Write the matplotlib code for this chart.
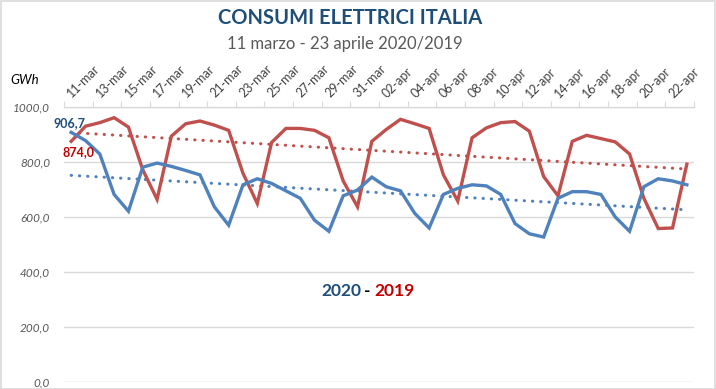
import matplotlib
matplotlib.use('Agg')
import matplotlib.pyplot as plt
from matplotlib.patches import Rectangle
import matplotlib.transforms as mtransforms
import numpy as np

days = ['11-mar', '12-mar', '13-mar', '14-mar', '15-mar', '16-mar', '17-mar', '18-mar',
        '19-mar', '20-mar', '21-mar', '22-mar', '23-mar', '24-mar', '25-mar', '26-mar',
        '27-mar', '28-mar', '29-mar', '30-mar', '31-mar', '01-apr', '02-apr', '03-apr',
        '04-apr', '05-apr', '06-apr', '07-apr', '08-apr', '09-apr', '10-apr', '11-apr',
        '12-apr', '13-apr', '14-apr', '15-apr', '16-apr', '17-apr', '18-apr', '19-apr',
        '20-apr', '21-apr', '22-apr', '23-apr']

cons_2020 = [906.7, 877, 828, 681, 620, 780, 795, 783, 768, 752, 636, 569, 716, 738,
             721, 694, 667, 587, 547, 676, 697, 744, 709, 694, 612, 559, 681, 703,
             716, 712, 681, 575, 538, 526, 667, 691, 691, 681, 599, 547, 709, 738,
             730, 716]

cons_2019 = [874.0, 929, 942, 960, 926, 771, 663, 893, 938, 948, 933, 914, 758, 648,
             870, 921, 921, 914, 887, 730, 636, 874, 917, 954, 938, 921, 752, 657,
             887, 923, 942, 946, 911, 746, 676, 874, 896, 884, 872, 828, 667, 557,
             559, 791]

y_ticks = [0, 200, 400, 600, 800, 1000]

BLUE = '#4F81BD'
RED = '#C0504D'
DARKBLUE = '#1F4E79'
DARKRED = '#C00000'
GRID = '#D9D9D9'
FONT = ['Lato', 'DejaVu Sans']

plt.rcParams['font.family'] = FONT

W, H = 716, 389
fig = plt.figure(figsize=(W / 100, H / 100), dpi=100)
fig.patch.set_facecolor('white')
fig.patches.append(Rectangle((0.5 / W, 0.5 / H), 1 - 1.5 / W, 1 - 1.5 / H,
                             transform=fig.transFigure, fill=False,
                             edgecolor=GRID, linewidth=1.2))

ax = fig.add_axes([64 / W, 1 - 381.7 / H, (694 - 64) / W, (381.7 - 106.7) / H])
x = np.arange(len(days))

ax.set_xlim(-0.5, len(days) - 0.5)
ax.set_ylim(0, 1000)

# grid
ax.set_yticks(y_ticks)
ax.set_yticklabels([f'{v:.1f}'.replace('.', ',') for v in y_ticks],
                   fontstyle='italic', color='#595959', fontsize=8.5)
ax.tick_params(axis='y', length=0, pad=10)
ax.yaxis.grid(True, color=GRID, linewidth=1)
ax.set_axisbelow(True)
for s in ['left', 'right', 'bottom']:
    ax.spines[s].set_visible(False)
ax.spines['top'].set_color(GRID)
ax.spines['top'].set_linewidth(1)

# x axis on top
ax.xaxis.tick_top()
ax.set_xticks(np.arange(-0.5, len(days), 2))
ax.set_xticklabels([])
ax.tick_params(axis='x', which='major', length=4, color=GRID, direction='out')
ax.set_xticks(x[::2], minor=True)
ax.set_xticklabels(days[::2], minor=True, rotation=45, fontsize=9, color='#404040')
ax.tick_params(axis='x', which='minor', length=0, pad=5)
offset = mtransforms.ScaledTranslation(2.5 / 100, 0, fig.dpi_scale_trans)
for lab in ax.get_xticklabels(minor=True):
    lab.set_horizontalalignment('left')
    lab.set_verticalalignment('bottom')
    lab.set_rotation_mode('anchor')
    lab.set_transform(lab.get_transform() + offset)

# series
ax.plot(x, cons_2019, color=RED, linewidth=2.4, solid_joinstyle='miter', zorder=3)
ax.plot(x, cons_2020, color=BLUE, linewidth=2.4, solid_joinstyle='miter', zorder=3)

# linear trends
for vals, col in [(cons_2019, RED), (cons_2020, BLUE)]:
    k, b = np.polyfit(x, vals, 1)
    ax.plot(x, k * x + b, color=col, linewidth=2.2, linestyle=(0, (0.1, 2.6)),
            dash_capstyle='round', zorder=2)

# data labels
ax.annotate(f'{cons_2020[0]:.1f}'.replace('.', ','), (x[0], cons_2020[0]),
            xytext=(-1, 7), textcoords='offset points', ha='center', va='center',
            color=DARKBLUE, fontsize=9, fontweight='bold')
ax.annotate(f'{cons_2019[0]:.1f}'.replace('.', ','), (x[0], cons_2019[0]),
            xytext=(5, -8), textcoords='offset points', ha='center', va='center',
            color=DARKRED, fontsize=9, fontweight='bold')

# titles
fig.text(350 / W, 1 - 18 / H, 'CONSUMI ELETTRICI ITALIA', ha='center', va='center',
         fontsize=14.5, fontweight='bold', color=DARKBLUE)
fig.text(345 / W, 1 - 44 / H, '11 marzo - 23 aprile 2020/2019', ha='center', va='center',
         fontsize=12, color='#595959')
fig.text(10 / W, 1 - 80 / H, 'GWh', ha='left', va='center', fontsize=9.5,
         fontstyle='italic', color='#000000')

# year legend text
fig.text(361 / W, 1 - 291 / H, '2020', ha='right', va='center', fontsize=12.5,
         fontweight='bold', color=DARKBLUE)
fig.text(367.5 / W, 1 - 291 / H, '-', ha='center', va='center', fontsize=12.5,
         fontweight='bold', color='#000000')
fig.text(374 / W, 1 - 291 / H, '2019', ha='left', va='center', fontsize=12.5,
         fontweight='bold', color=DARKRED)

fig.savefig('out.png', dpi=100, facecolor='white')
